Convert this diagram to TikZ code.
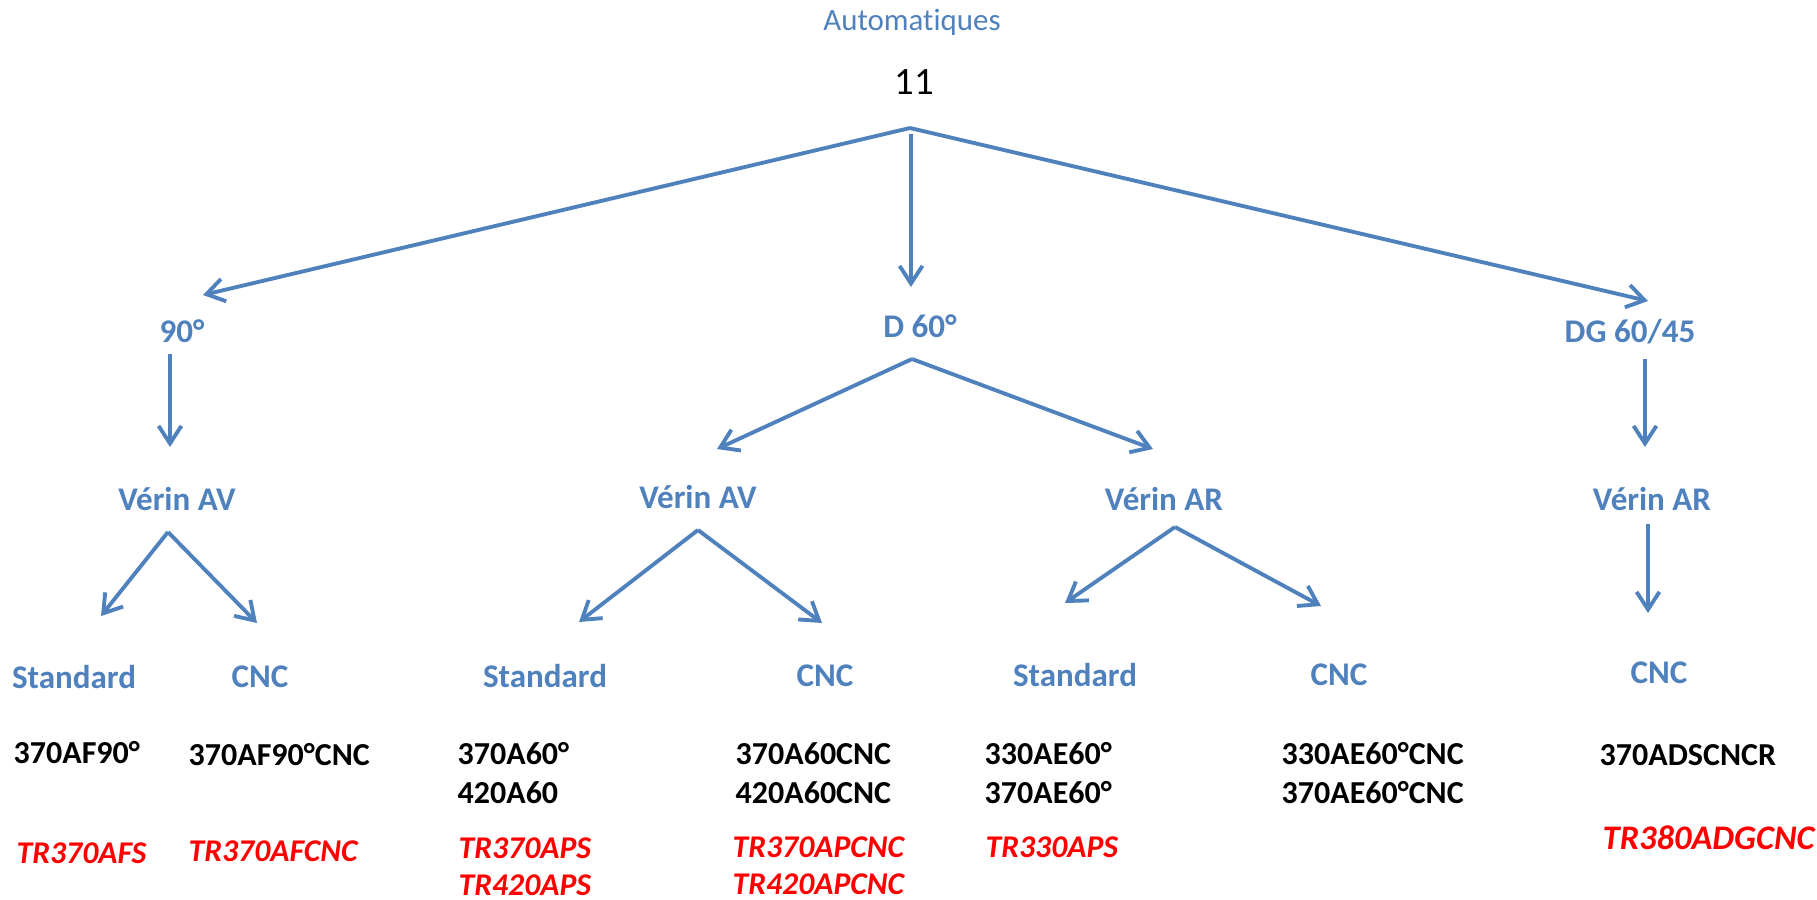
\documentclass[tikz,border=0pt]{standalone}
\usepackage{fontspec}
\setmainfont{Carlito}[Ligatures=CommonOff]
\usepackage{tikz}
\usetikzlibrary{arrows.meta}
\definecolor{officeblue}{RGB}{79,129,189}
\definecolor{refred}{RGB}{255,0,0}

\begin{document}
\begin{tikzpicture}[x=0.01cm, y=-0.01cm,
    lbl/.style={text=officeblue, font=\fontsize{9.4}{11}\selectfont\bfseries, inner sep=0},
    code/.style={font=\fontsize{9.1}{11}\selectfont\bfseries, align=left, anchor=west, inner sep=0},
    ref/.style={text=refred, font=\fontsize{9}{10.6}\selectfont\bfseries\itshape, align=left, anchor=west, inner sep=0},
    arr/.style={officeblue, line width=1.1pt, -{Straight Barb[length=5pt, width=6.5pt]}}]
    \path[use as bounding box] (0, 0) rectangle (1817, 900);
    \node[text=officeblue, font=\fontsize{8.8}{10}\selectfont, inner sep=0] (auto) at (912, 22) {Automatiques};
    \node[font=\fontsize{11}{13}\selectfont, inner sep=0] (tot) at (914, 82) {11};
    \node[lbl] (n90) at (182, 331) {90°};
    \node[lbl] (d60) at (920, 326) {D 60°};
    \node[lbl] (dg) at (1630, 332) {DG 60/45};
    \node[lbl] (vav1) at (177, 499) {Vérin AV};
    \node[lbl] (vav2) at (698, 497) {Vérin AV};
    \node[lbl] (var2) at (1164, 499) {Vérin AR};
    \node[lbl] (var3) at (1652, 499) {Vérin AR};
    \node[lbl] (std1) at (74, 677) {Standard};
    \node[lbl] (cnc1) at (260, 677) {CNC};
    \node[lbl] (std2) at (545, 676) {Standard};
    \node[lbl] (cnc2) at (825, 676) {CNC};
    \node[lbl] (std3) at (1075, 675) {Standard};
    \node[lbl] (cnc3) at (1339, 675) {CNC};
    \node[lbl] (cnc4) at (1659, 673) {CNC};
    \node[code] (c1) at (13, 753) {370AF90°};
    \node[code] (c2) at (188, 755) {370AF90°CNC};
    \node[code] (c3) at (457, 773) {370A60°\\420A60};
    \node[code] (c4) at (735, 773) {370A60CNC\\420A60CNC};
    \node[code] (c5) at (984, 773) {330AE60°\\370AE60°};
    \node[code] (c6) at (1281, 773) {330AE60°CNC\\370AE60°CNC};
    \node[code] (c7) at (1599, 755) {370ADSCNCR};
    \node[ref] (r1) at (16, 853) {TR370AFS};
    \node[ref] (r2) at (188, 851) {TR370AFCNC};
    \node[ref] (r3) at (458, 867) {TR370APS\\TR420APS};
    \node[ref] (r4) at (732, 866) {TR370APCNC\\TR420APCNC};
    \node[ref] (r5) at (985, 847) {TR330APS};
    \node[ref, font=\fontsize{9.8}{11}\selectfont\bfseries\itshape] (r6) at (1602, 838) {TR380ADGCNC};
    \coordinate (totfork) at ([shift={(-4, 46)}]tot.center);
    \coordinate (d60fork) at ([shift={(-8, 33)}]d60.center);
    \coordinate (vav1fork) at ([shift={(-9, 33)}]vav1.center);
    \coordinate (vav2fork) at ([shift={(0, 33)}]vav2.center);
    \coordinate (var2fork) at ([shift={(11, 28)}]var2.center);
    \draw[arr] (totfork) -- ([shift={(21, -36)}]n90.center);
    \draw[arr] ([shift={(-3, 52)}]tot.center) -- ([shift={(-9, -39)}]d60.center);
    \draw[arr] (totfork) -- ([shift={(18, -31)}]dg.center);
    \draw[arr] ([shift={(-12, 23)}]n90.center) -- ([shift={(-7, -52)}]vav1.center);
    \draw[arr] (d60fork) -- ([shift={(19, -48)}]vav2.center);
    \draw[arr] (d60fork) -- ([shift={(-11, -50)}]var2.center);
    \draw[arr] ([shift={(15, 27)}]dg.center) -- ([shift={(-7, -52)}]var3.center);
    \draw[arr] (vav1fork) -- ([shift={(27, -61)}]std1.center);
    \draw[arr] (vav1fork) -- ([shift={(-3, -54)}]cnc1.center);
    \draw[arr] (vav2fork) -- ([shift={(34, -54)}]std2.center);
    \draw[arr] (vav2fork) -- ([shift={(-3, -53)}]cnc2.center);
    \draw[arr] (var2fork) -- ([shift={(-10, -72)}]std3.center);
    \draw[arr] (var2fork) -- ([shift={(-18, -69)}]cnc3.center);
    \draw[arr] ([shift={(-4, 25)}]var3.center) -- ([shift={(-11, -60)}]cnc4.center);
\end{tikzpicture}
\end{document}
